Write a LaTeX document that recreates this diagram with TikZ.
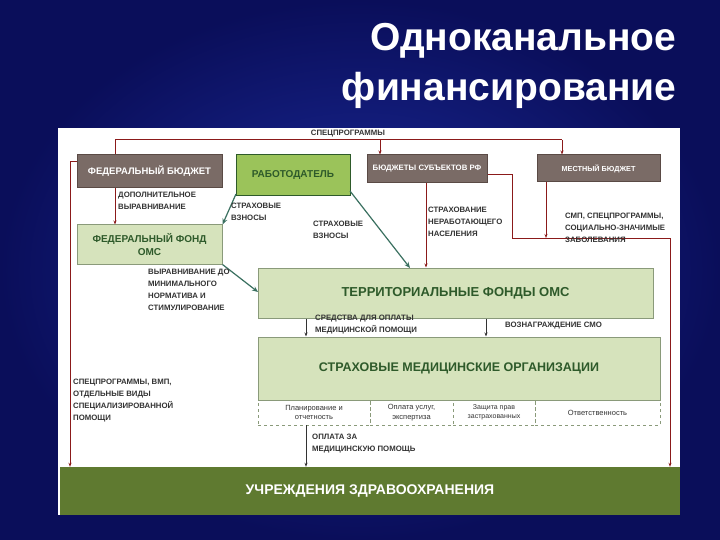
\documentclass[tikz,border=0pt]{standalone}
\usepackage{fontspec}
\setmainfont{Liberation Sans}
\usetikzlibrary{arrows.meta}
\definecolor{navy}{HTML}{0A0E5A}
\definecolor{navyc}{HTML}{1C2C9E}
\definecolor{bud}{HTML}{7A6B66}
\definecolor{budb}{HTML}{5A4A45}
\definecolor{emp}{HTML}{9BC35A}
\definecolor{lg}{HTML}{D6E3BC}
\definecolor{lgb}{HTML}{8A9A7A}
\definecolor{dg}{HTML}{2E5A2A}
\definecolor{olive}{HTML}{5F7A30}
\definecolor{dred}{HTML}{8B1A1A}
\definecolor{grn}{HTML}{3A7060}
\definecolor{txt}{HTML}{333333}
\tikzset{
 x=1pt,y=-1pt,
 bud/.style={draw=budb,fill=bud,text=white,font=\fontsize{9.5}{12}\selectfont\bfseries,line width=1pt,inner sep=1pt},
 lbox/.style={draw=lgb,fill=lg,text=dg,font=\fontsize{10}{13}\selectfont\bfseries,line width=1pt,inner sep=1pt},
 lab/.style={anchor=north west,align=left,text=txt,font=\fontsize{7.8}{12}\selectfont\bfseries,inner sep=0pt},
 rline/.style={draw=dred,line width=1pt},
 rarr/.style={rline,-{Stealth[length=4pt,width=3pt]}},
 garr/.style={draw=grn,line width=1.2pt,-{Stealth[length=6pt,width=5pt]}},
 karr/.style={draw=txt,line width=1pt,-{Stealth[length=4pt,width=3pt]}},
 cell/.style={draw=lgb,dashed,text=txt,font=\fontsize{7.5}{9.5}\selectfont,align=center,inner sep=0pt}
}
\begin{document}
\begin{tikzpicture}
\useasboundingbox (0,0) rectangle (720,540);
\shade[inner color=navyc,outer color=navy] (0,0) rectangle (720,540);
\node[anchor=north east,align=right,text=white,font=\fontsize{39}{50}\selectfont\bfseries] (title) at (680,20) {Одноканальное\\финансирование};
\fill[white] (58,128) rectangle (680,515);
% boxes
\node[bud,minimum width=145,minimum height=33] (fb) at (149.5,171.5) {ФЕДЕРАЛЬНЫЙ БЮДЖЕТ};
\node[draw=dg,fill=emp,text=dg,font=\fontsize{10}{12}\selectfont\bfseries,line width=1pt,minimum width=114,minimum height=41] (emp) at (293,175.5) {РАБОТОДАТЕЛЬ};
\node[bud,font=\fontsize{7.8}{9}\selectfont\bfseries,minimum width=120,minimum height=28] (sb) at (427,169) {БЮДЖЕТЫ СУБЪЕКТОВ РФ};
\node[bud,font=\fontsize{7.3}{9}\selectfont\bfseries,minimum width=123,minimum height=27] (mb) at (598.5,168.5) {МЕСТНЫЙ БЮДЖЕТ};
\node[lbox,align=center,minimum width=145,minimum height=39] (ff) at (149.5,244.5) {ФЕДЕРАЛЬНЫЙ ФОНД\\ОМС};
\node[lbox,font=\fontsize{13}{15}\selectfont\bfseries,minimum width=395,minimum height=50] (tf) at (455.5,293) {ТЕРРИТОРИАЛЬНЫЕ ФОНДЫ ОМС};
\node[lbox,font=\fontsize{12.5}{15}\selectfont\bfseries,minimum width=402,minimum height=63] (smo) at (459,368.5) {СТРАХОВЫЕ МЕДИЦИНСКИЕ ОРГАНИЗАЦИИ};
\node[cell,minimum width=112,minimum height=25] (c1) at (314,412.5) {Планирование и\\отчетность};
\node[cell,minimum width=83,minimum height=25] (c2) at (411.5,412.5) {Оплата услуг,\\экспертиза};
\node[cell,minimum width=82,minimum height=25,font=\fontsize{7}{9}\selectfont] (c3) at (494,412.5) {Защита прав\\застрахованных};
\node[cell,minimum width=125,minimum height=25] (c4) at (597.5,412.5) {Ответственность};
\node[fill=olive,text=white,font=\fontsize{14}{16}\selectfont\bfseries,minimum width=620,minimum height=48,inner sep=0pt] (uz) at (370,491) {УЧРЕЖДЕНИЯ ЗДРАВООХРАНЕНИЯ};
% top line
\coordinate (t1) at (115,140); \coordinate (t2) at (562,140);
\draw[rline] (fb.north -| t1) -- (t1) -- (t2);
\draw[rarr] (380,140) -- (sb.north -| 380,0);
\draw[rarr] (t2) -- (mb.north -| t2);
\node[lab,anchor=south,font=\fontsize{7.8}{9}\selectfont\bfseries] (lsp) at (348,137.5) {СПЕЦПРОГРАММЫ};
% fb -> ff
\draw[rarr] (fb.south -| 115,0) -- (ff.north -| 115,0);
\node[lab] (l1) at (118,192) {ДОПОЛНИТЕЛЬНОЕ\\ВЫРАВНИВАНИЕ};
% employer arrows
\draw[garr] (236,194) -- (ff.north east);
\node[lab] (l2) at (231,203) {СТРАХОВЫЕ\\ВЗНОСЫ};
\draw[garr] (350,191) -- (410,268);
\node[lab] (l3) at (313,221) {СТРАХОВЫЕ\\ВЗНОСЫ};
% ff -> tf
\draw[garr] (ff.south east) -- (258,292);
\node[lab] (l4) at (148,269) {ВЫРАВНИВАНИЕ ДО\\МИНИМАЛЬНОГО\\НОРМАТИВА И\\СТИМУЛИРОВАНИЕ};
% sb -> tf
\draw[rarr] (sb.south -| 426,0) -- (tf.north -| 426,0);
\node[lab] (l5) at (428,207) {СТРАХОВАНИЕ\\НЕРАБОТАЮЩЕГО\\НАСЕЛЕНИЯ};
% right path
\coordinate (r1) at (512,175); \coordinate (r2) at (512,238); \coordinate (r3) at (670,238);
\draw[rarr] (sb.east |- r1) -- (r1) -- (r2) -- (r3) -- (uz.north -| r3);
\draw[rarr] (mb.south -| 546,0) -- (546,238);
\node[lab] (l6) at (565,213) {СМП, СПЕЦПРОГРАММЫ,\\СОЦИАЛЬНО-ЗНАЧИМЫЕ\\ЗАБОЛЕВАНИЯ};
% left path
\coordinate (p1) at (70,162);
\draw[rarr] (fb.west |- p1) -- (p1) -- (uz.north -| p1);
\node[lab] (l7) at (73,379) {СПЕЦПРОГРАММЫ, ВМП,\\ОТДЕЛЬНЫЕ ВИДЫ\\СПЕЦИАЛИЗИРОВАННОЙ\\ПОМОЩИ};
% tf -> smo
\draw[karr] (tf.south -| 306,0) -- (smo.north -| 306,0);
\node[lab] (l8) at (315,315) {СРЕДСТВА ДЛЯ ОПЛАТЫ\\МЕДИЦИНСКОЙ ПОМОЩИ};
\draw[karr] (tf.south -| 486,0) -- (smo.north -| 486,0);
\node[lab] (l9) at (505,322) {ВОЗНАГРАЖДЕНИЕ СМО};
% smo -> uz
\draw[karr] (c1.south -| 306,0) -- (uz.north -| 306,0);
\node[lab] (l10) at (312,434) {ОПЛАТА ЗА\\МЕДИЦИНСКУЮ ПОМОЩЬ};
\end{tikzpicture}
\end{document}
